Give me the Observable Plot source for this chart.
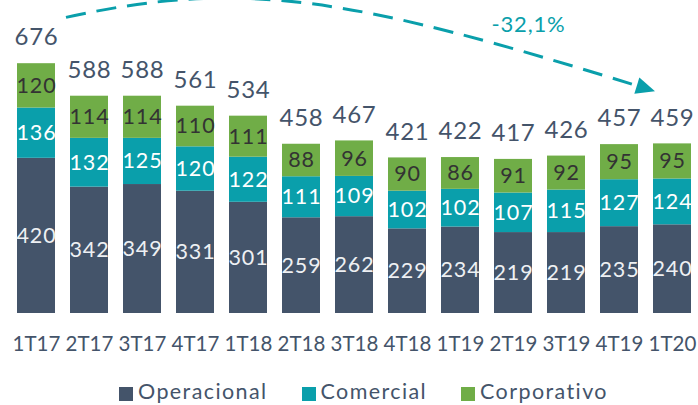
<!DOCTYPE html>
<html><head><meta charset="utf-8">
<script src="https://cdn.jsdelivr.net/npm/d3@7"></script>
<script src="https://cdn.jsdelivr.net/npm/@observablehq/plot@0.6"></script>
<style>
html,body{margin:0;padding:0;background:#fff;}
body{position:relative;width:698px;height:405px;overflow:hidden;font-family:Lato,"Open Sans",sans-serif;}
#chart svg{display:block;}
#chart g[aria-label="text"] text{letter-spacing:0.8px;}
#legend{position:absolute;left:119px;top:381px;display:flex;align-items:center;font-size:21.5px;line-height:21px;color:#44546a;white-space:nowrap;letter-spacing:1.4px;}
#legend .item{display:flex;align-items:center;margin-right:34px;}
#legend .sw{width:14px;height:14px;margin-right:5px;margin-top:4px;}
</style></head><body>
<div id="chart"></div>
<div id="legend"></div>
<script>
const categories = ["1T17","2T17","3T17","4T17","1T18","2T18","3T18","4T18","1T19","2T19","3T19","4T19","1T20"];
const operacional = [420,342,349,331,301,259,262,229,234,219,219,235,240];
const comercial   = [136,132,125,120,122,111,109,102,102,107,115,127,124];
const corporativo = [120,114,114,110,111,88,96,90,86,91,92,95,95];
const totals      = [676,588,588,561,534,458,467,421,422,417,426,457,459];
const seriesNames = ["Operacional","Comercial","Corporativo"];
const seriesColors = ["#44546a","#0a9fab","#70ad47"];
const labelColors = ["#eef0f3","#ffffff","#333333"];
const changeLabel = "-32,1%";
const arrowFrom = {cat: "2T17", value: 800};
const arrowTo = {cat: "1T20", value: 600};
const labelAt = {cat: "2T19", value: 780};

const textColor = "#44546a";
const teal = "#0a9fab";

const seriesValues = [operacional, comercial, corporativo];
const rows = [];
categories.forEach((c, i) => {
  let base = 0;
  seriesValues.forEach((vals, s) => {
    rows.push({cat: c, series: seriesNames[s], y1: base, y2: base + vals[i], mid: base + vals[i] / 2, value: vals[i], lab: labelColors[s]});
    base += vals[i];
  });
});
const totalRows = categories.map((c, i) => ({cat: c, total: totals[i]}));

function trendArrow(index, scales, values, dimensions) {
  const x = scales.x, y = scales.y;
  const p0 = [x(arrowFrom.cat) - 4, y(arrowFrom.value)];
  const tip = [x(arrowTo.cat) + 2, y(arrowTo.value)];
  const p1 = [p0[0] + 180, p0[1] - 0.22 * 180];
  const p2 = [tip[0] - 300, tip[1] - 0.31 * 300];
  const dxv = tip[0] - p2[0], dyv = tip[1] - p2[1];
  const len = Math.hypot(dxv, dyv);
  const ux = dxv / len, uy = dyv / len;
  const headLen = 19, headHalf = 8.5;
  const p3 = [tip[0] - ux * (headLen - 4), tip[1] - uy * (headLen - 4)];
  const path = d3.path();
  path.moveTo(p0[0], p0[1]);
  path.bezierCurveTo(p1[0], p1[1], p2[0], p2[1], p3[0], p3[1]);
  const g = d3.create("svg:g");
  g.append("path").attr("d", path.toString()).attr("fill", "none")
    .attr("stroke", teal).attr("stroke-width", 3).attr("stroke-dasharray", "20 11");
  const bx = tip[0] - ux * headLen, by = tip[1] - uy * headLen;
  g.append("path")
    .attr("d", `M${tip[0]},${tip[1]}L${bx - uy * headHalf},${by + ux * headHalf}L${bx + uy * headHalf},${by - ux * headHalf}Z`)
    .attr("fill", teal);
  return g.node();
}

const chart = Plot.plot({
  width: 698,
  height: 372,
  marginLeft: 10,
  marginRight: 0,
  marginTop: 0,
  marginBottom: 59,
  style: {fontFamily: "Lato, 'Open Sans', sans-serif", background: "#fff", overflow: "visible"},
  x: {domain: categories, paddingInner: 0.2875, paddingOuter: 0.1, label: null},
  y: {domain: [0, 847], axis: null},
  color: {domain: seriesNames, range: seriesColors},
  marks: [
    Plot.barY(rows, {x: "cat", y1: "y1", y2: "y2", fill: "series"}),
    Plot.text(rows, {x: "cat", y: "mid", text: d => String(d.value), fill: "lab", fontSize: 21.5}),
    Plot.text(totalRows, {x: "cat", y: "total", text: d => String(d.total), dy: -26, fill: textColor, fontSize: 24}),
    Plot.axisX({tickSize: 0, tickPadding: 23, fontSize: 20.5, color: textColor, label: null}),
    trendArrow,
    Plot.text([changeLabel], {x: () => labelAt.cat, y: () => labelAt.value, dx: 15, text: d => d, fill: teal, fontSize: 22})
  ]
});
document.getElementById("chart").appendChild(chart);

const legend = d3.select("#legend");
seriesNames.forEach((name, i) => {
  const item = legend.append("div").attr("class", "item");
  item.append("div").attr("class", "sw").style("background", seriesColors[i]);
  item.append("span").text(name);
});
</script>
</body></html>
